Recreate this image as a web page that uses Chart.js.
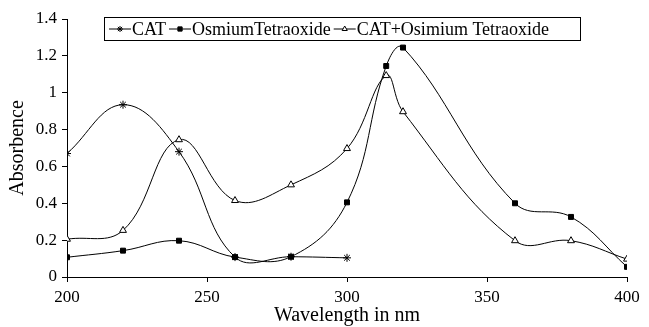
<!DOCTYPE html>
<html>
<head>
<meta charset="utf-8">
<script src="https://cdn.jsdelivr.net/npm/chart.js@4"></script>
<style>
  html, body { margin: 0; padding: 0; background: #fff; }
  #wrap { position: relative; width: 649px; height: 327px; }
</style>
</head>
<body>
<div id="wrap"><canvas id="c" width="649" height="327"></canvas></div>
<script>
// wavelengths (nm) and absorbence per series
const catX = [200, 220, 240, 260, 280, 300];
const catY = [0.67, 0.935, 0.68, 0.108, 0.11, 0.104];
const osmX = [200, 220, 240, 260, 280, 300, 314, 320, 360, 380, 400];
const osmY = [0.107, 0.143, 0.197, 0.108, 0.11, 0.405, 1.145, 1.245, 0.40, 0.326, 0.055];
const mixX = [200, 220, 240, 260, 280, 300, 314, 320, 360, 380, 400];
const mixY = [0.205, 0.253, 0.745, 0.415, 0.50, 0.697, 1.093, 0.897, 0.197, 0.197, 0.097];
const legendLabels = ['CAT', 'OsmiumTetraoxide', 'CAT+Osimium Tetraoxide'];

const FONT = '"Liberation Serif", "Times New Roman", serif';
const pts = (xs, ys) => xs.map((x, i) => ({ x, y: ys[i] }));

// legend drawn by hand: boxed, one row, sitting over the top of the plot
const boxLegend = {
  id: 'boxLegend',
  afterDraw(chart) {
    const g = chart.ctx;
    g.save();
    g.font = '18px ' + FONT;
    g.textBaseline = 'middle';
    const x0 = 104, y0 = 17, h = 23, w = 476;
    g.fillStyle = '#fff';
    g.fillRect(x0, y0, w, h);
    g.strokeStyle = '#000'; g.lineWidth = 1;
    g.strokeRect(x0 + 0.5, y0 + 0.5, w, h);
    const seg = 22;
    let x = x0 + 5;
    const cy = y0 + h / 2 + 0.5;
    legendLabels.forEach((t, i) => {
      const ds = chart.data.datasets[i];
      g.beginPath(); g.moveTo(x, cy); g.lineTo(x + seg, cy);
      g.strokeStyle = '#000'; g.lineWidth = 1; g.stroke();
      g.fillStyle = ds.pointBackgroundColor;
      Chart.helpers.drawPoint(g, { pointStyle: ds.pointStyle, radius: 3, borderWidth: 1, rotation: 0 }, x + seg / 2, cy);
      x += seg + 1;
      g.fillStyle = '#000';
      g.fillText(t, x, cy + 1);
      x += g.measureText(t).width + 3;
    });
    g.restore();
  }
};

new Chart(document.getElementById('c').getContext('2d'), {
  type: 'line',
  data: {
    datasets: [
      { label: legendLabels[0], data: pts(catX, catY), pointStyle: 'star', pointRadius: 4,
        borderColor: '#000', backgroundColor: '#000', pointBackgroundColor: '#000', pointBorderColor: '#000', borderWidth: 1, pointBorderWidth: 1 },
      { label: legendLabels[1], data: pts(osmX, osmY), pointStyle: 'rect', pointRadius: 3.5,
        borderColor: '#000', backgroundColor: '#000', pointBackgroundColor: '#000', borderWidth: 1 },
      { label: legendLabels[2], data: pts(mixX, mixY), pointStyle: 'triangle', pointRadius: 4,
        borderColor: '#000', backgroundColor: '#fff', pointBackgroundColor: '#fff', borderWidth: 1, pointBorderWidth: 1 },
    ],
  },
  options: {
    responsive: false, animation: false,
    layout: { padding: { top: 19, right: 22, left: 0, bottom: 0 } },
    elements: { line: { tension: 0.4 } },
    plugins: { legend: { display: false }, tooltip: { enabled: false } },
    scales: {
      x: {
        type: 'linear', min: 200, max: 400,
        ticks: { stepSize: 50, color: '#000', font: { family: FONT, size: 17 }, padding: 5, maxRotation: 0 },
        grid: { display: true, drawOnChartArea: false, drawTicks: true, tickLength: 5, color: '#000' },
        border: { color: '#000', width: 1 },
        title: { display: true, text: 'Wavelength in nm', color: '#000', font: { family: FONT, size: 20 }, padding: { top: 0, bottom: -1 } },
        afterFit: (s) => { s.height = 50; },
      },
      y: {
        min: 0, max: 1.4,
        ticks: { stepSize: 0.2, color: '#000', font: { family: FONT, size: 17 }, padding: 5,
          callback: (v) => String(Number(v.toFixed(1))) },
        grid: { display: true, drawOnChartArea: false, drawTicks: true, tickLength: 5, color: '#000' },
        border: { color: '#000', width: 1 },
        title: { display: true, text: 'Absorbence', color: '#000', font: { family: FONT, size: 20 }, padding: { top: 6, bottom: 2 } },
        afterFit: (s) => { s.width = 67; },
      },
    },
  },
  plugins: [boxLegend],
});
</script>
</body>
</html>
